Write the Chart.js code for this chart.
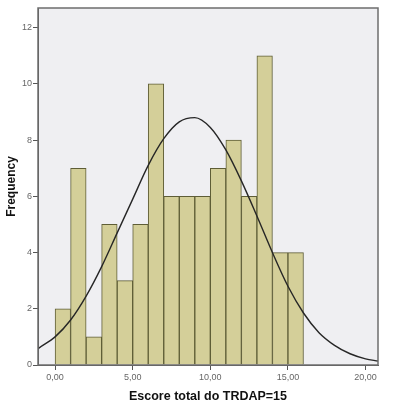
<!DOCTYPE html>
<html>
<head>
<meta charset="utf-8">
<script src="https://cdn.jsdelivr.net/npm/chart.js@4.4.1/dist/chart.umd.min.js"></script>
<style>
  html, body { margin: 0; padding: 0; background: #fff; }
  #wrap { width: 399px; height: 405px; }
</style>
</head>
<body>
<div id="wrap"><canvas id="hist"></canvas></div>
<script>
// ─── Data ─────────────────────────────────────────────────────────────────────
const binStarts   = [0, 1, 2, 3, 4, 5, 6, 7, 8, 9, 10, 11, 12, 13, 14, 15];
const frequencies = [2, 7, 1, 5, 3, 5, 10, 6, 6, 6, 7, 8, 6, 11, 4, 4];

// normal curve overlay
const curveX = [-1.1, -1, 0, 1, 2, 3, 4, 5, 6, 7, 8, 9, 10, 11, 12, 13, 14, 15, 16, 17, 18, 19, 20, 20.8];
const curveY = [0.58, 0.62, 1.0, 1.6, 2.45, 3.5, 4.7, 5.9, 7.1, 8.05, 8.65, 8.8, 8.45, 7.65, 6.55, 5.3, 4.0, 2.8, 1.85, 1.15, 0.7, 0.4, 0.22, 0.14];

const xTicks      = [0, 5, 10, 15, 20];
const xTickLabels = ['0,00', '5,00', '10,00', '15,00', '20,00'];
const yTicks      = [0, 2, 4, 6, 8, 10, 12];

const xTitle = 'Escore total do TRDAP=15';
const yTitle = 'Frequency';

// ─── Plot frame + background ──────────────────────────────────────────────────
const plotFrame = {
  id: 'plotFrame',
  beforeDraw(chart) {
    const { ctx, chartArea: a } = chart;
    ctx.save();
    ctx.fillStyle = '#efeff2';
    ctx.fillRect(a.left, a.top, a.right - a.left, a.bottom - a.top);
    ctx.restore();
  },
  afterDraw(chart) {
    const { ctx, chartArea: a } = chart;
    ctx.save();
    ctx.strokeStyle = '#6e6e6e';
    ctx.lineWidth = 1.5;
    ctx.strokeRect(a.left, a.top, a.right - a.left, a.bottom - a.top);
    ctx.restore();
  },
};

const barData   = binStarts.map((s, i) => ({ x: s + 0.5, y: frequencies[i] }));
const curveData = curveX.map((x, i) => ({ x, y: curveY[i] }));

new Chart(document.getElementById('hist'), {
  type: 'bar',
  data: {
    datasets: [
      {
        type: 'line',
        data: curveData,
        borderColor: '#262626',
        borderWidth: 1.4,
        pointRadius: 0,
        cubicInterpolationMode: 'monotone',
        fill: false,
        order: 0,
      },
      {
        type: 'bar',
        data: barData,
        backgroundColor: '#d4cf99',
        borderColor: '#5e5d36',
        borderWidth: 1,
        barPercentage: 1,
        categoryPercentage: 1,
        grouped: false,
        order: 1,
      },
    ],
  },
  options: {
    responsive: true,
    maintainAspectRatio: false,
    animation: false,
    layout: { padding: { left: 0, top: 8, right: 21, bottom: 0 } },
    plugins: {
      legend: { display: false },
      tooltip: { enabled: false },
    },
    scales: {
      x: {
        type: 'linear',
        min: -1.1,
        max: 20.8,
        offset: false,
        afterBuildTicks: s => { s.ticks = xTicks.map(v => ({ value: v })); },
        afterFit: s => { s.height = 40; },
        ticks: {
          autoSkip: false,
          maxRotation: 0,
          padding: 2,
          color: '#666',
          font: { family: 'Liberation Sans', size: 9 },
          callback: (v) => xTickLabels[xTicks.indexOf(v)],
        },
        grid: { display: true, drawOnChartArea: false, drawTicks: true, tickLength: 5, color: '#555', offset: false },
        border: { display: true, color: '#555', width: 1 },
        title: {
          display: true,
          text: xTitle,
          color: '#111',
          font: { family: 'Liberation Sans', size: 12.5, weight: 'bold' },
          padding: { top: 4, bottom: 1 },
        },
      },
      y: {
        min: 0,
        max: 12.7,
        afterBuildTicks: s => { s.ticks = yTicks.map(v => ({ value: v })); },
        afterFit: s => { s.width = 38; },
        ticks: {
          padding: 1,
          color: '#666',
          font: { family: 'Liberation Sans', size: 9 },
        },
        grid: { display: true, drawOnChartArea: false, drawTicks: true, tickLength: 5, color: '#555' },
        border: { display: true, color: '#555', width: 1 },
        title: {
          display: true,
          text: yTitle,
          color: '#111',
          font: { family: 'Liberation Sans', size: 12, weight: 'bold' },
          padding: { top: 4, bottom: 0 },
        },
      },
    },
  },
  plugins: [plotFrame],
});
</script>
</body>
</html>
